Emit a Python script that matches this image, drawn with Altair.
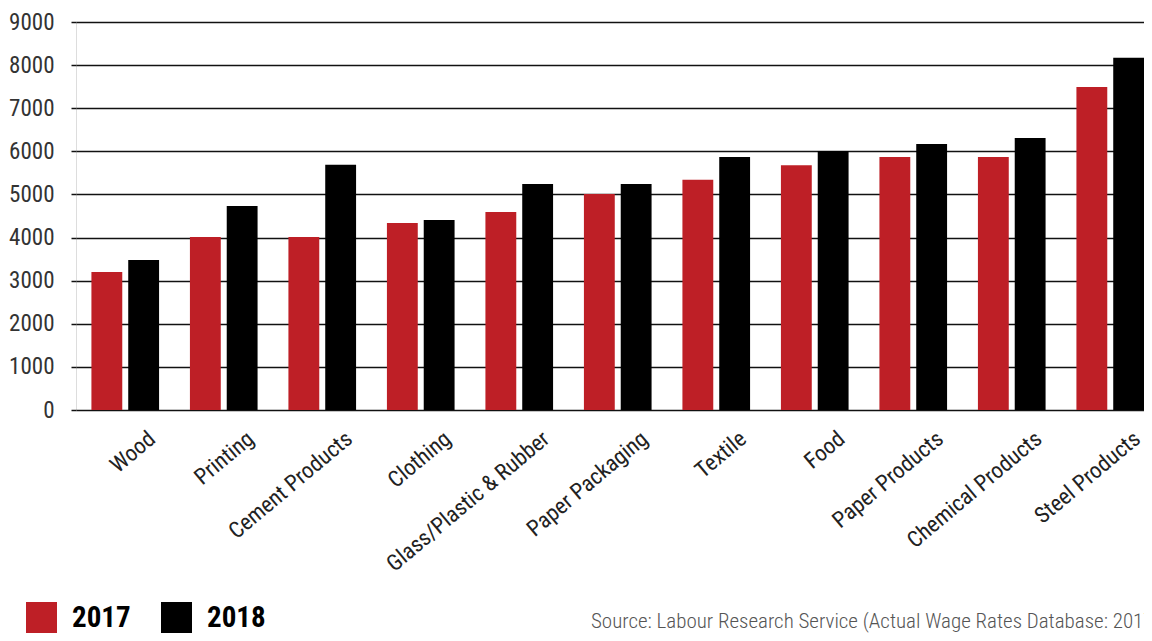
import altair as alt
import pandas as pd

categories = ["Wood", "Printing", "Cement Products", "Clothing", "Glass/Plastic & Rubber",
              "Paper Packaging", "Textile", "Food", "Paper Products", "Chemical Products",
              "Steel Products"]
values_2017 = [3200, 4010, 4010, 4340, 4590, 5010, 5340, 5680, 5870, 5870, 7490]
values_2018 = [3480, 4730, 5690, 4410, 5240, 5240, 5870, 6010, 6170, 6310, 8170]
years = ["2017", "2018"]
colors = ["#be1f26", "#000000"]
y_ticks = [0, 1000, 2000, 3000, 4000, 5000, 6000, 7000, 8000, 9000]
source_text = "Source: Labour Research Service (Actual Wage Rates Database: 2017-2018)"

rows = []
for c, a, b in zip(categories, values_2017, values_2018):
    rows.append({"category": c, "year": "2017", "value": a})
    rows.append({"category": c, "year": "2018", "value": b})
df = pd.DataFrame(rows)

FONT = "Liberation Sans Narrow, Roboto Condensed, DejaVu Sans Condensed, Arial Narrow, sans-serif"

bars = alt.Chart(df).mark_bar(cornerRadius=0).encode(
    x=alt.X("category:N", sort=categories,
            scale=alt.Scale(paddingInner=0, paddingOuter=0),
            axis=alt.Axis(title=None, labelAngle=-40, labelAlign="right", labelBaseline="top",
                          labelFontSize=22.5, labelFont=FONT, labelColor="#222",
                          labelPadding=17, labelOffset=20, ticks=False, domain=False,
                          grid=False, labelOverlap=False, labelLimit=0)),
    xOffset=alt.XOffset("year:N", scale=alt.Scale(paddingInner=0.162, paddingOuter=0.419)),
    y=alt.Y("value:Q", scale=alt.Scale(domain=[0, 9000], nice=False),
            axis=alt.Axis(title=None, values=y_ticks, format="d", labelFontSize=23, labelFont=FONT,
                          labelColor="#333", labelPadding=17, tickSize=5, tickColor="#111",
                          tickWidth=1.5, domain=False, grid=True, gridColor="#111",
                          gridWidth=1.5, labelBaseline="middle", labelOverlap=False)),
    color=alt.Color("year:N", scale=alt.Scale(domain=years, range=colors),
                    legend=alt.Legend(title=None, orient="none", legendX=-50, legendY=580,
                                      direction="horizontal", symbolType="square",
                                      symbolSize=961, symbolStrokeWidth=0,
                                      labelFont=FONT, labelFontSize=29, labelFontWeight="bold",
                                      labelColor="#000", labelOffset=15, columnPadding=30,
                                      padding=0, symbolOpacity=1)),
)

src = alt.Chart(pd.DataFrame({"t": [source_text]})).mark_text(
    align="left", baseline="alphabetic", font=FONT, fontSize=21, color="#555", fontWeight=300
).encode(text="t:N", x=alt.value(515), y=alt.value(606))

chart = alt.layer(bars, src).properties(
    width=1083.5, height=388,
    autosize=alt.AutoSizeParams(type="none"),
    padding={"left": 68, "top": 14, "right": -15.5, "bottom": 223},
).configure_view(stroke=None).configure(background="white")

chart.save("out.html", embed_options={"renderer": "svg", "actions": False})
